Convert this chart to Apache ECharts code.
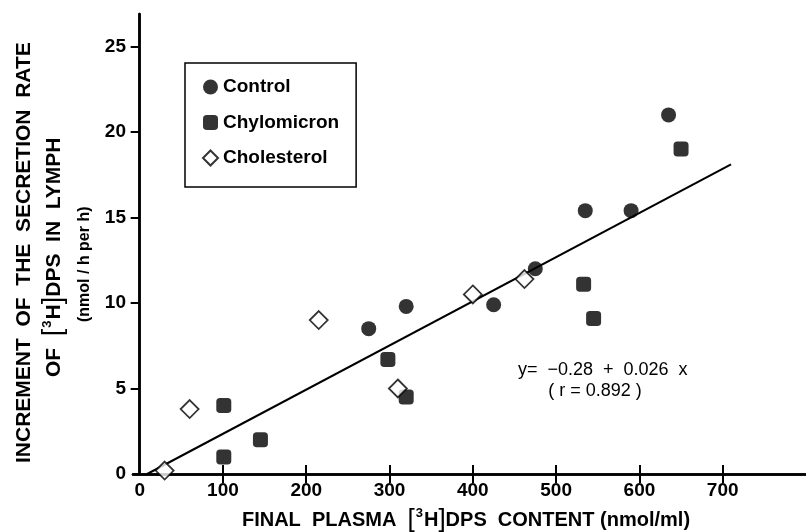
<!DOCTYPE html>
<html>
<head>
<meta charset="utf-8">
<script src="https://cdn.jsdelivr.net/npm/echarts@6/dist/echarts.min.js"></script>
<style>
html, body { margin: 0; padding: 0; background: #fff; }
#main { width: 806px; height: 532px; }
</style>
</head>
<body>
<div id="main"></div>
<script>
// values
var controlX = [275, 320, 425, 475, 535, 590, 635];
var controlY = [8.5, 9.8, 9.9, 12.0, 15.4, 15.4, 21.0];
var chyloX = [101, 101, 145, 298, 320, 533, 545, 650];
var chyloY = [1.0, 4.0, 2.0, 6.7, 4.5, 11.1, 9.1, 19.0];
var cholX = [30, 60, 215, 310, 400, 462];
var cholY = [0.2, 3.8, 9.0, 5.0, 10.5, 11.4];
var fitX = [9, 710];
var fitY = [0.0, 18.1];
var xTicks = [0, 100, 200, 300, 400, 500, 600, 700];
var yTicks = [0, 5, 10, 15, 20, 25];

var sans = '"Liberation Sans", Arial, sans-serif';

function pairs(xs, ys) {
    var out = [];
    for (var i = 0; i < xs.length; i++) {
        out.push([xs[i], ys[i]]);
    }
    return out;
}

var dom = document.getElementById("main");
var myChart = echarts.init(dom);

var axisLine = { show: true, lineStyle: { color: '#000', width: 2.5 } };
var tickStyle = { color: '#000', width: 2 };

function titleRich(size) {
    return {
        a: { fontSize: size, fontWeight: 'bold', fontFamily: sans, fill: '#000' },
        b: { fontSize: size + 6, fontFamily: sans, fill: '#000' },
        s: { fontSize: 13, fontWeight: 'bold', fontFamily: sans, fill: '#000', verticalAlign: 'top', padding: [0, 1, 9, 1] }
    };
}

var option = {
    animation: false,
    backgroundColor: '#fff',
    grid: { left: 133, top: 14, right: -6, bottom: 58 },
    legend: {
        orient: 'vertical',
        left: 185,
        top: 63,
        padding: [14, 17, 19, 17],
        borderColor: '#000',
        borderWidth: 1.5,
        borderRadius: 0,
        itemWidth: 15,
        itemHeight: 15,
        itemGap: 15.5,
        textStyle: { color: '#000', fontSize: 19, fontWeight: 'bold', fontFamily: sans, lineHeight: 20 },
        data: ['Control', 'Chylomicron', 'Cholesterol']
    },
    xAxis: [{
        type: 'value',
        min: -8,
        max: 800,
        position: 'bottom',
        axisLine: axisLine,
        axisTick: { inside: true, length: 9, customValues: xTicks.slice(1), lineStyle: tickStyle },
        axisLabel: { customValues: xTicks, color: '#000', fontSize: 19, fontWeight: 'bold', margin: 7, fontFamily: sans },
        splitLine: { show: false }
    }, {
        type: 'value',
        min: -8,
        max: 800,
        position: 'top',
        axisLine: axisLine,
        axisTick: { inside: true, length: 9, customValues: xTicks.slice(1), lineStyle: tickStyle },
        axisLabel: { show: false },
        splitLine: { show: false }
    }],
    yAxis: [{
        type: 'value',
        min: 0,
        max: 26.9,
        position: 'left',
        axisLine: axisLine,
        axisTick: { inside: false, length: 6, customValues: yTicks, lineStyle: tickStyle },
        axisLabel: { customValues: yTicks, color: '#000', fontSize: 19, fontWeight: 'bold', margin: 7, fontFamily: sans },
        splitLine: { show: false }
    }, {
        type: 'value',
        min: 0,
        max: 26.9,
        position: 'right',
        axisLine: axisLine,
        axisTick: { inside: true, length: 9, customValues: yTicks.slice(1), lineStyle: tickStyle },
        axisLabel: { show: false },
        splitLine: { show: false }
    }],
    graphic: [{
        // x axis title
        type: 'text',
        x: 466,
        y: 520,
        style: {
            text: '{a|FINAL  PLASMA  }{b|[}{s|3}{a|H}{b|]}{a|DPS  CONTENT (nmol/ml)}',
            align: 'center',
            verticalAlign: 'middle',
            rich: titleRich(20)
        }
    }, {
        // y axis title, three rotated lines
        type: 'text',
        x: 24,
        y: 463,
        rotation: Math.PI / 2,
        style: {
            text: 'INCREMENT  OF  THE  SECRETION  RATE',
            font: 'bold 21px ' + sans,
            fill: '#000',
            align: 'left',
            verticalAlign: 'middle'
        }
    }, {
        type: 'text',
        x: 54,
        y: 377,
        rotation: Math.PI / 2,
        style: {
            text: '{a|OF  }{b|[}{s|3}{a|H}{b|]}{a|DPS  IN  LYMPH}',
            align: 'left',
            verticalAlign: 'middle',
            rich: titleRich(21)
        }
    }, {
        type: 'text',
        x: 85,
        y: 322,
        rotation: Math.PI / 2,
        style: {
            text: '(nmol / h per h)',
            font: 'bold 16px ' + sans,
            fill: '#000',
            align: 'left',
            verticalAlign: 'middle'
        }
    }, {
        // regression annotation
        type: 'text',
        x: 518,
        y: 370,
        style: {
            text: 'y=  \u22120.28  +  0.026  x',
            font: '18px ' + sans,
            fill: '#000',
            align: 'left',
            verticalAlign: 'middle'
        }
    }, {
        type: 'text',
        x: 595,
        y: 391,
        style: {
            text: '( r = 0.892 )',
            font: '18px ' + sans,
            fill: '#000',
            align: 'center',
            verticalAlign: 'middle'
        }
    }],
    series: [{
        name: 'Fit',
        type: 'line',
        data: pairs(fitX, fitY),
        symbol: 'none',
        lineStyle: { color: '#000', width: 2 },
        z: 1
    }, {
        name: 'Control',
        type: 'scatter',
        data: pairs(controlX, controlY),
        symbol: 'circle',
        symbolSize: 15,
        itemStyle: { color: '#000' },
        z: 3
    }, {
        name: 'Chylomicron',
        type: 'scatter',
        data: pairs(chyloX, chyloY),
        symbol: 'roundRect',
        symbolSize: 15,
        itemStyle: { color: '#000' },
        z: 3
    }, {
        name: 'Cholesterol',
        type: 'scatter',
        data: pairs(cholX, cholY),
        symbol: 'diamond',
        symbolSize: 18,
        itemStyle: { color: '#fff', borderColor: '#000', borderWidth: 1.8 },
        z: 3
    }]
};

if (option && typeof option === "object") {
    myChart.setOption(option, true);
}
</script>
</body>
</html>
